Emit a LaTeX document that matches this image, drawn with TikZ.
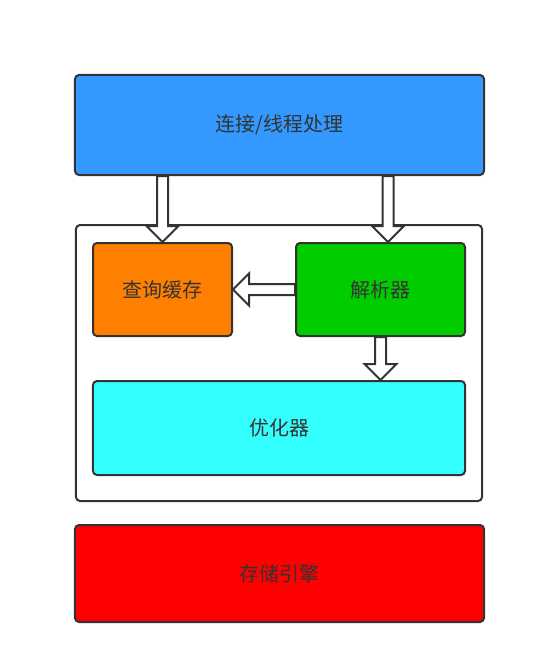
\documentclass[tikz,border=0pt]{standalone}
\usepackage{fontspec}
\setmainfont{Noto Sans CJK SC}
\usetikzlibrary{positioning,fit,calc,backgrounds}
\definecolor{connblue}{HTML}{3399FF}
\definecolor{cacheorange}{HTML}{FF8000}
\definecolor{parsegreen}{HTML}{00CC00}
\definecolor{optcyan}{HTML}{33FFFF}
\definecolor{storered}{HTML}{FF0000}
\definecolor{edge}{HTML}{333333}
\tikzset{block/.style={draw=edge,line width=2bp,rounded corners=4bp,minimum height=93bp,align=center,
           text=edge,font=\fontsize{20bp}{24bp}\selectfont},
         hollow/.style={draw=edge,fill=white,line width=2bp,line join=miter,
           to path={let \p1=(\tikztostart), \p2=(\tikztotarget), \p3=($(\p2)!16bp!(\p1)$) in
             -- ($(\p1)!5.5bp!90:(\p2)$) -- ($(\p3)!5.5bp!90:(\p2)$) -- ($(\p3)!16bp!90:(\p2)$)
             -- (\p2) -- ($(\p3)!16bp!-90:(\p2)$) -- ($(\p3)!5.5bp!-90:(\p2)$)
             -- ($(\p1)!5.5bp!-90:(\p2)$) -- cycle}}
}

\begin{document}
\begin{tikzpicture}[x=1bp,y=-1bp]
  \useasboundingbox (0,0) rectangle (533,670);
  \node[block, fill = connblue, minimum width=409bp, minimum height=100bp] (conn) at (279.5,125) {连接/线程处理};
  \node[block, fill = cacheorange, minimum width=139bp] (cache) at (162.5,289.5) {查询缓存};
  \node[block, fill = parsegreen, minimum width=169bp, right=62bp of cache] (parser) {解析器};
  \node[block, fill = optcyan, minimum width=372bp, minimum height=94bp] (optimizer) at (279,428) {优化器};
  \node[block, fill = storered, minimum width=409bp, minimum height=97bp] (storage) at (279.5,573.5) {存储引擎};
  \coordinate (sbot) at ([yshift=-8bp]optimizer.south);
  \coordinate (pin) at ([xshift=7.5bp]parser.north);

  \begin{scope}[on background layer]
   \node[draw=edge,line width=2bp,rounded corners=4bp,fill=white,inner xsep=16bp,inner
     ysep=17bp,fit=(cache)(parser)(optimizer)(sbot)] (server) {};
  \end{scope}
  \draw[hollow] (conn.south -| cache.north) to (cache.north);
  \draw[hollow] (conn.south -| pin) to (pin);
  \draw[hollow] (parser.west) to (cache.east);
  \draw[hollow] (parser.south) to (parser.south |- optimizer.north);
\end{tikzpicture}
\end{document}
